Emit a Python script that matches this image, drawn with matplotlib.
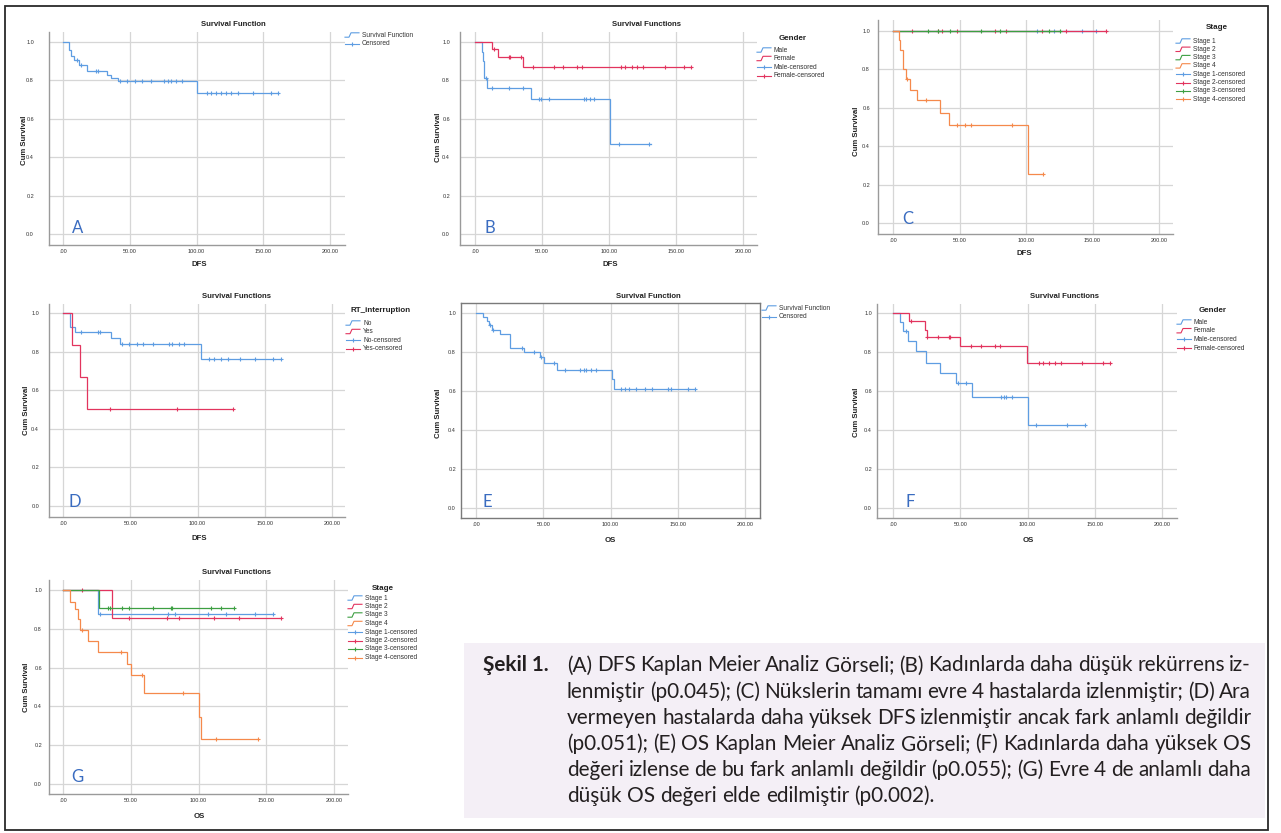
import numpy as np
import matplotlib
matplotlib.use("Agg")
import matplotlib.pyplot as plt
from matplotlib.patches import Rectangle

# ---------------- data ----------------
X_TICKS = [0, 50, 100, 150, 200]
X_TICK_LABELS = [".00", "50.00", "100.00", "150.00", "200.00"]
Y_TICKS = [0.0, 0.2, 0.4, 0.6, 0.8, 1.0]
Y_TICK_LABELS = ["0.0", "0.2", "0.4", "0.6", "0.8", "1.0"]

# A: DFS overall
A_t = [0, 4.5, 6, 8, 12, 18, 33, 36, 41, 100, 161]
A_s = [1.0, 0.957, 0.925, 0.905, 0.88, 0.848, 0.828, 0.814, 0.796, 0.733, 0.733]
A_c = [10.5, 13.5, 25, 26, 42.5, 48, 54, 59, 66, 76, 79, 81, 85, 89,
       107.5, 111, 114.5, 118, 122, 126, 131, 142, 156, 161]

# B: DFS by gender
B_male_t = [0, 5, 6, 7, 9, 42, 101, 131]
B_male_s = [1.0, 0.95, 0.90, 0.81, 0.758, 0.703, 0.467, 0.467]
B_male_c = [8.2, 12.5, 25.5, 36, 47.5, 49, 55, 81, 83, 86, 89, 107.5, 130]
B_female_t = [0, 12.5, 17.5, 36, 161]
B_female_s = [1.0, 0.965, 0.922, 0.870, 0.870]
B_female_c = [14, 25, 26, 34, 43, 59, 66, 76, 80, 109, 112, 117, 121, 125.5,
              142, 156, 161]

# C: DFS by stage
C_s1_t = [0, 153]
C_s1_s = [1.0, 1.0]
C_s1_c = [108, 121, 142, 153]
C_s2_t = [0, 160.5]
C_s2_s = [1.0, 1.0]
C_s2_c = [14, 34, 37, 48, 77, 85, 112, 130, 160.5]
C_s3_t = [0, 125.5]
C_s3_s = [1.0, 1.0]
C_s3_c = [26, 33.5, 43, 66, 80.5, 117, 125.5]
C_s4_t = [0, 4.25, 5.5, 7.5, 9.5, 13, 18, 35.5, 41.75, 101.75, 112.5]
C_s4_s = [1.0, 0.955, 0.90, 0.80, 0.752, 0.695, 0.64, 0.573, 0.51, 0.257, 0.257]
C_s4_c = [10.5, 25, 48, 54.25, 58.75, 89.25, 112.5]

# D: DFS by RT interruption
D_no_t = [0, 5.5, 8.75, 36, 42.5, 102.5, 162]
D_no_s = [1.0, 0.93, 0.90, 0.87, 0.84, 0.76, 0.76]
D_no_c = [13.75, 26, 27.5, 43.75, 48.75, 55, 59.5, 67, 78.75, 81, 86, 90,
          108.75, 112.5, 117.5, 122.5, 131.75, 142.5, 156, 162]
D_yes_t = [0, 7, 12.5, 18, 126.75]
D_yes_s = [1.0, 0.833, 0.667, 0.50, 0.50]
D_yes_c = [35, 84.5, 126.75]

# E: OS overall
E_t = [0, 5.5, 8, 10, 12, 17.5, 25, 36, 47.5, 50.5, 60, 101, 102.5, 163]
E_s = [1.0, 0.978, 0.957, 0.94, 0.915, 0.89, 0.82, 0.80, 0.773, 0.744, 0.71,
       0.66, 0.61, 0.61]
E_c = [10.5, 13, 34, 43, 48.5, 58, 66, 77.5, 80, 82, 85.5, 89, 108, 110.5,
       114, 119, 125.5, 131, 142.5, 145, 157.5, 163]

# F: OS by gender
F_male_t = [0, 5, 7.4, 11.1, 17.3, 24.75, 34.65, 47, 58.9, 100.2, 143]
F_male_s = [1.0, 0.954, 0.906, 0.855, 0.803, 0.744, 0.692, 0.641, 0.57,
            0.427, 0.427]
F_male_c = [9.5, 48.3, 54.5, 80.4, 82.2, 84.2, 88.6, 106.4, 129.5, 143]
F_female_t = [0, 11.9, 23.5, 25.2, 50, 99.75, 161]
F_female_s = [1.0, 0.96, 0.915, 0.877, 0.83, 0.744, 0.744]
F_female_c = [13.1, 25.5, 33.4, 42, 42.6, 58.2, 65.6, 75.5, 79.2, 108.4, 111.4,
              116.3, 120.8, 125, 140.6, 156, 161]

# G: OS by stage
G_s1_t = [0, 26, 155]
G_s1_s = [1.0, 0.875, 0.875]
G_s1_c = [27, 77.5, 83, 107, 120.5, 141.5, 155]
G_s2_t = [0, 36.5, 161]
G_s2_s = [1.0, 0.857, 0.857]
G_s2_c = [14, 48.5, 77, 85.5, 111.5, 130, 161]
G_s3_t = [0, 26.5, 126]
G_s3_s = [1.0, 0.909, 0.909]
G_s3_c = [33, 35, 43.5, 48.5, 66.5, 79.5, 80.5, 109, 116.5, 126]
G_s4_t = [0, 5.5, 8.5, 11, 12.8, 18.5, 25.5, 47.5, 50, 59.6, 100.5, 101.5, 144]
G_s4_s = [1.0, 0.94, 0.90, 0.85, 0.795, 0.738, 0.679, 0.62, 0.56, 0.468,
          0.345, 0.233, 0.233]
G_s4_c = [14.3, 43, 58.6, 88.7, 112.8, 144]

CAPTION_LABEL = "Şekil 1."
CAPTION_LINES = [
    "(A) DFS Kaplan Meier Analiz Görseli; (B) Kadınlarda daha düşük rekürrens iz-",
    "lenmiştir (p0.045); (C) Nükslerin tamamı evre 4 hastalarda izlenmiştir; (D) Ara",
    "vermeyen hastalarda daha yüksek DFS izlenmiştir ancak fark anlamlı değildir",
    "(p0.051); (E) OS Kaplan Meier Analiz Görseli; (F) Kadınlarda daha yüksek OS",
    "değeri izlense de bu fark anlamlı değildir (p0.055); (G) Evre 4 de anlamlı daha",
    "düşük OS değeri elde edilmiştir (p0.002).",
]

# ---------------- style ----------------
BLUE = "#5e9de2"
RED = "#e2345e"
GREEN = "#3d9f42"
ORANGE = "#f5894b"
LETTER = "#3a6cc0"
plt.rcParams["font.family"] = ["Liberation Sans", "DejaVu Sans"]

W, H = 1281, 833
fig = plt.figure(figsize=(W / 100, H / 100), dpi=100)
fig.patch.set_facecolor("white")


def km_value(t, s, q):
    idx = np.searchsorted(np.asarray(t), np.asarray(q), side="right") - 1
    return np.asarray(s)[idx]


def make_axes(box, x0, x200, y1, y0, pad_px, full_box=False):
    L, T, R, B = box
    ax = fig.add_axes([L / W, 1 - B / H, (R - L) / W, (B - T) / H])
    kx = (x200 - x0) / 200.0
    ky = float(y0 - y1)
    ax.set_xlim((L - x0) / kx, (R - x0) / kx)
    ax.set_ylim((y0 - B) / ky, (y0 - T) / ky)
    ax.set_xticks(X_TICKS)
    ax.set_xticklabels(X_TICK_LABELS)
    ax.set_yticks(Y_TICKS)
    ax.set_yticklabels(Y_TICK_LABELS)
    ax.grid(True, color="#d6d6d6", lw=0.9)
    ax.set_axisbelow(True)
    ax.tick_params(axis="both", length=0, labelsize=4, labelcolor="#333333")
    ax.tick_params(axis="y", pad=pad_px * 0.72)
    ax.tick_params(axis="x", pad=3)
    for sp in ["top", "right"]:
        ax.spines[sp].set_visible(full_box)
    for sp in ax.spines.values():
        sp.set_color("#7a7a7a" if full_box else "#9a9a9a")
        sp.set_linewidth(1.0)
    ax.patch.set_alpha(0)
    return ax


def draw_curve(ax, t, s, cens, color):
    ax.step(t, s, where="post", color=color, lw=0.9, solid_joinstyle="miter")
    ax.plot(cens, km_value(t, s, cens), ls="none", marker="+", ms=3.4,
            mew=0.8, color=color)


# panel A
axA = make_axes((49, 32, 345, 245), 63, 330, 42, 234, 15)
draw_curve(axA, A_t, A_s, A_c, BLUE)
# panel B
axB = make_axes((460, 32, 757, 245), 475, 743, 42, 234, 10)
draw_curve(axB, B_male_t, B_male_s, B_male_c, BLUE)
draw_curve(axB, B_female_t, B_female_s, B_female_c, RED)
# panel C
axC = make_axes((878, 20, 1173, 234), 893, 1159, 31, 223, 8)
draw_curve(axC, C_s1_t, C_s1_s, C_s1_c, BLUE)
draw_curve(axC, C_s2_t, C_s2_s, C_s2_c, RED)
draw_curve(axC, C_s3_t, C_s3_s, C_s3_c, GREEN)
draw_curve(axC, C_s4_t, C_s4_s, C_s4_c, ORANGE)
# panel D
axD = make_axes((49, 304, 345, 517), 63, 332, 313, 506, 10)
draw_curve(axD, D_no_t, D_no_s, D_no_c, BLUE)
draw_curve(axD, D_yes_t, D_yes_s, D_yes_c, RED)
# panel E
axE = make_axes((461, 303, 760, 518), 476, 745, 313, 508, 5, full_box=True)
draw_curve(axE, E_t, E_s, E_c, BLUE)
# panel F
axF = make_axes((877, 304, 1177, 518), 893, 1162, 313, 508, 5)
draw_curve(axF, F_male_t, F_male_s, F_male_c, BLUE)
draw_curve(axF, F_female_t, F_female_s, F_female_c, RED)
# panel G
axG = make_axes((49, 580, 348, 794), 63, 334, 590, 784, 7)
draw_curve(axG, G_s1_t, G_s1_s, G_s1_c, BLUE)
draw_curve(axG, G_s2_t, G_s2_s, G_s2_c, RED)
draw_curve(axG, G_s3_t, G_s3_s, G_s3_c, GREEN)
draw_curve(axG, G_s4_t, G_s4_s, G_s4_c, ORANGE)

# ---------------- overlay in pixel coordinates ----------------
ov = fig.add_axes([0, 0, 1, 1])
ov.set_xlim(0, W)
ov.set_ylim(H, 0)
ov.axis("off")
ov.patch.set_alpha(0)

TXT = "#222222"
titles = [("Survival Function", 233, 24), ("Survival Functions", 646, 24),
          ("Survival Functions", 236, 297), ("Survival Function", 648, 297),
          ("Survival Functions", 1065, 297), ("Survival Functions", 236, 573)]
for s, x, y in titles:
    ov.text(x, y, s, fontsize=5.6, weight="bold", ha="center", va="center", color=TXT)

xlabels = [("DFS", 199, 265), ("DFS", 610, 265), ("DFS", 1024, 253),
           ("DFS", 199, 538), ("OS", 610, 540), ("OS", 1028, 540), ("OS", 199, 817)]
for s, x, y in xlabels:
    ov.text(x, y, s, fontsize=5.6, weight="bold", ha="center", va="center", color=TXT)

for x, y in [(25, 140), (438, 137), (857, 131), (27, 410), (438, 413), (856, 412), (27, 687)]:
    ov.text(x, y, "Cum Survival", fontsize=5.6, weight="bold", rotation=90,
            ha="center", va="center", color=TXT)

for s, x, y in [("A", 78, 228), ("B", 490, 228), ("C", 908, 219), ("D", 75, 502),
                ("E", 487, 502), ("F", 910, 502), ("G", 77, 777)]:
    ov.text(x, y, s, fontsize=12, family=["Lato", "DejaVu Sans"],
            color=LETTER, ha="center", va="center")


def legend(xh, y_first, dy, entries, title=None, title_xy=None):
    if title:
        ov.text(title_xy[0], title_xy[1], title, fontsize=5.8, weight="bold",
                ha="center", va="center", color=TXT)
    for i, (lab, col, kind) in enumerate(entries):
        y = y_first + i * dy
        if kind == "line":
            ov.plot([xh, xh + 4, xh + 6, xh + 14], [y + 2.2, y + 2.2, y - 2.2, y - 2.2],
                    color=col, lw=0.8)
        else:
            ov.plot([xh, xh + 14], [y, y], color=col, lw=0.8)
            ov.plot([xh + 7], [y], marker="+", ms=3.4, mew=0.8, color=col)
        ov.text(xh + 17, y, lab, fontsize=4.8, ha="left", va="center", color="#333333")


legend(345, 35, 8.5, [("Survival Function", BLUE, "line"), ("Censored", BLUE, "cens")])
legend(757, 50, 8.5, [("Male", BLUE, "line"), ("Female", RED, "line"),
                      ("Male-censored", BLUE, "cens"), ("Female-censored", RED, "cens")],
       "Gender", (793, 38))
stage_entries = [("Stage 1", BLUE, "line"), ("Stage 2", RED, "line"),
                 ("Stage 3", GREEN, "line"), ("Stage 4", ORANGE, "line"),
                 ("Stage 1-censored", BLUE, "cens"), ("Stage 2-censored", RED, "cens"),
                 ("Stage 3-censored", GREEN, "cens"), ("Stage 4-censored", ORANGE, "cens")]
legend(1176, 41, 8.3, stage_entries, "Stage", (1217, 27))
legend(346, 323, 8.5, [("No", BLUE, "line"), ("Yes", RED, "line"),
                       ("No-censored", BLUE, "cens"), ("Yes-censored", RED, "cens")],
       "RT_interruption", (381, 311))
legend(762, 308, 8.5, [("Survival Function", BLUE, "line"), ("Censored", BLUE, "cens")])
legend(1177, 322, 8.7, [("Male", BLUE, "line"), ("Female", RED, "line"),
                        ("Male-censored", BLUE, "cens"), ("Female-censored", RED, "cens")],
       "Gender", (1213, 311))
legend(348, 598, 8.5, stage_entries, "Stage", (383, 588))

# outer frame
ov.add_patch(Rectangle((5, 6), 1263, 824, fill=False, ec="#2a2a2a", lw=1.3))

# caption box
ov.add_patch(Rectangle((464, 643), 801, 175, fc="#f4eff6", ec="none"))
CAP_FONT = ["Lato", "DejaVu Sans"]
CAP_COLOR = "#231f20"

renderer = fig.canvas.get_renderer()
x_left, x_right = 567, 1251
line_y0, line_dy = 664, 26.2
fs = 16.0


def measure(words, size):
    ws = []
    for w in words:
        t = ov.text(0, 0, w, fontsize=size, family=CAP_FONT)
        ws.append(t.get_window_extent(renderer).width)
        t.remove()
    return ws


min_gap = 4.0
scale = 1.0
for line in CAPTION_LINES[:-1]:
    words = line.split(" ")
    ws = measure(words, fs)
    need = sum(ws) + min_gap * (len(words) - 1)
    scale = min(scale, (x_right - x_left) / need)
fs = fs * min(scale, 1.0)
space_w = measure(["a a"], fs)[0] - 2 * measure(["a"], fs)[0]
base_off = fs * 1.389 * 0.36  # from visual line centre to baseline

ov.text(483, line_y0 + base_off, CAPTION_LABEL, fontsize=fs, weight="bold",
        family=CAP_FONT, ha="left", va="baseline", color=CAP_COLOR)

for i, line in enumerate(CAPTION_LINES):
    words = line.split(" ")
    ws = measure(words, fs)
    last = i == len(CAPTION_LINES) - 1
    gap = space_w if last else (x_right - x_left - sum(ws)) / (len(words) - 1)
    x = x_left
    y = line_y0 + i * line_dy + base_off
    for w, wd in zip(words, ws):
        ov.text(x, y, w, fontsize=fs, family=CAP_FONT, ha="left", va="baseline",
                color=CAP_COLOR)
        x += wd + gap

fig.savefig("out.png", dpi=100)
